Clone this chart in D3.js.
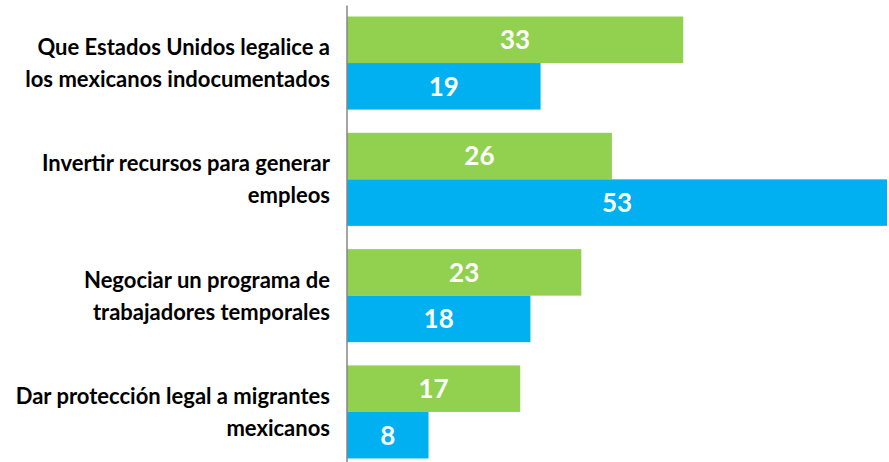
<!DOCTYPE html>
<html>
<head>
<meta charset="utf-8">
<script src="https://cdn.jsdelivr.net/npm/d3@7"></script>
<style>
  body { margin: 0; background: #fff; }
  svg { display: block; font-family: Lato, "Open Sans", sans-serif; }
</style>
</head>
<body>
<div class="chart"></div>
<script>
// categories (each split in two lines as in the original)
var categories = [
  ["Que Estados Unidos legalice a", "los mexicanos indocumentados"],
  ["Invertir recursos para generar", "empleos"],
  ["Negociar un programa de", "trabajadores temporales"],
  ["Dar protección legal a migrantes", "mexicanos"]
];
var seriesNames = ["s1", "s2"];
var greenValues = [33, 26, 23, 17];
var blueValues = [19, 53, 18, 8];
var colors = ["#92d050", "#00b0f0"];

var width = 889, height = 462;

var svg = d3.select(".chart").append("svg")
  .attr("width", width)
  .attr("height", height);

var keys = categories.map(function (d, i) { return i; });

var y = d3.scaleBand()
  .domain(keys)
  .range([4.9, 470.1])
  .paddingInner(0.2)
  .paddingOuter(0.1);

var ySub = d3.scaleBand()
  .domain(seriesNames)
  .range([0, y.bandwidth()]);

var x = d3.scaleLinear()
  .domain([0, 53])
  .range([347, 887]);

var rows = keys.map(function (i) {
  return [
    { key: "s1", cat: i, value: greenValues[i], fill: colors[0] },
    { key: "s2", cat: i, value: blueValues[i], fill: colors[1] }
  ];
});

var group = svg.selectAll("g.grp")
  .data(rows)
  .enter().append("g")
  .attr("class", "grp")
  .attr("transform", function (d, i) { return "translate(0," + y(i) + ")"; });

group.selectAll("rect")
  .data(function (d) { return d; })
  .enter().append("rect")
  .attr("x", x(0))
  .attr("y", function (d) { return ySub(d.key); })
  .attr("width", function (d) { return x(d.value) - x(0); })
  .attr("height", ySub.bandwidth())
  .attr("fill", function (d) { return d.fill; });

group.selectAll("text.val")
  .data(function (d) { return d; })
  .enter().append("text")
  .attr("class", "val")
  .attr("x", function (d) { return (x(d.value) + x(0)) / 2; })
  .attr("y", function (d) { return ySub(d.key) + ySub.bandwidth() / 2; })
  .attr("dy", "0.36em")
  .attr("text-anchor", "middle")
  .attr("fill", "#fff")
  .attr("font-weight", "bold")
  .attr("font-size", 26)
  .text(function (d) { return d.value; });

// axis line
svg.append("g")
  .attr("transform", "translate(346.5,0)")
  .call(d3.axisLeft(y).tickSize(0).tickFormat(""))
  .call(function (g) { g.select(".domain").attr("stroke", "#868686").attr("stroke-width", 1.5); });

// category labels
var lab = svg.selectAll("text.cat")
  .data(categories)
  .enter().append("text")
  .attr("class", "cat")
  .attr("text-anchor", "end")
  .attr("font-weight", "bold")
  .attr("font-size", 22)
  .attr("fill", "#000");

lab.selectAll("tspan")
  .data(function (d, i) { return d.map(function (t, j) { return { t: t, j: j, i: i }; }); })
  .enter().append("tspan")
  .attr("x", 330)
  .attr("y", function (d) { return y(d.i) + y.bandwidth() / 2 + (d.j === 0 ? -16 : 16); })
  .attr("dy", "0.36em")
  .text(function (d) { return d.t; });
</script>
</body>
</html>
